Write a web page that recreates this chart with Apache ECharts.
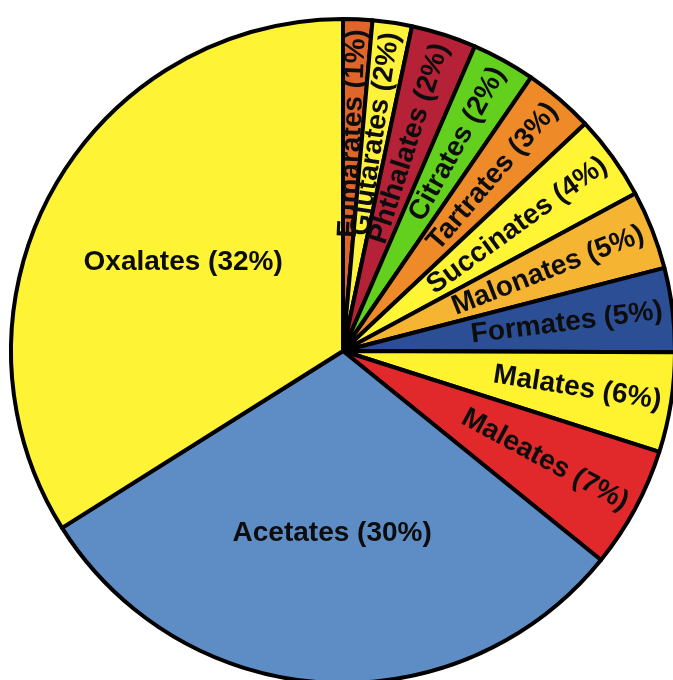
<!DOCTYPE html>
<html>
<head>
<meta charset="utf-8">
<script src="https://cdn.jsdelivr.net/npm/echarts@6/dist/echarts.min.js"></script>
<style>
html,body{margin:0;padding:0;background:#fff;}
#chart{width:673px;height:680px;}
</style>
</head>
<body>
<div id="chart"></div>
<script>
// Slice names, clockwise from 12 o'clock
var categories = ['Fumarates','Glutarates','Phthalates','Citrates','Tartrates','Succinates','Malonates','Formates','Malates','Maleates','Acetates','Oxalates'];
// Slice sizes as drawn in the picture (angular share, degrees)
var sliceShares = [5.1, 6.9, 11.4, 11.1, 12.3, 14.9, 13.8, 14.7, 17.5, 21.3, 108.8, 122.2];
// Percent text printed on each slice
var labelPercents = ['1%','2%','2%','2%','3%','4%','5%','5%','6%','7%','30%','32%'];

var palette = ['#E0652B','#FFF23A','#B52238','#63D01E','#EE8A28','#FFF535','#F5B431','#2B4E95','#FFF32F','#E1282B','#5E8CC4','#FEF334'];
var horizontalLabels = {'Acetates': true, 'Oxalates': true};

var chart = echarts.init(document.getElementById('chart'), null, {renderer: 'canvas'});

var data = categories.map(function (name, i) {
  return {name: name, value: sliceShares[i], pct: labelPercents[i], itemStyle: {color: palette[i]}};
});

function layoutLabel(params) {
  var seriesData = chart.getModel().getSeriesByIndex(0).getData();
  var lay = seriesData.getItemLayout(params.dataIndex);
  var mid = (lay.startAngle + lay.endAngle) / 2;
  var name = categories[params.dataIndex];
  if (horizontalLabels[name]) {
    var rr = lay.r * 0.55;
    return {
      x: lay.cx + rr * Math.cos(mid),
      y: lay.cy + rr * Math.sin(mid),
      rotate: 0, align: 'center', verticalAlign: 'middle'
    };
  }
  var re = lay.r * 0.97;
  return {
    x: lay.cx + re * Math.cos(mid),
    y: lay.cy + re * Math.sin(mid),
    rotate: -mid * 180 / Math.PI,
    align: 'right', verticalAlign: 'middle'
  };
}

chart.setOption({
  animation: false,
  backgroundColor: '#ffffff',
  series: [{
    type: 'pie',
    center: [343, 351],
    radius: [0, 332],
    startAngle: 90,
    clockwise: true,
    sort: null,
    avoidLabelOverlap: false,
    minAngle: 0,
    data: data,
    itemStyle: {borderColor: '#000000', borderWidth: 4},
    label: {
      show: true,
      position: 'inside',
      formatter: function (p) { return p.name + ' (' + p.data.pct + ')'; },
      fontFamily: '"Liberation Sans", Arial, Helvetica, sans-serif',
      fontWeight: 'bold',
      fontSize: 28,
      color: '#0d0d0d'
    },
    labelLine: {show: false},
    labelLayout: layoutLabel,
    emphasis: {disabled: true}
  }]
});
</script>
</body>
</html>
